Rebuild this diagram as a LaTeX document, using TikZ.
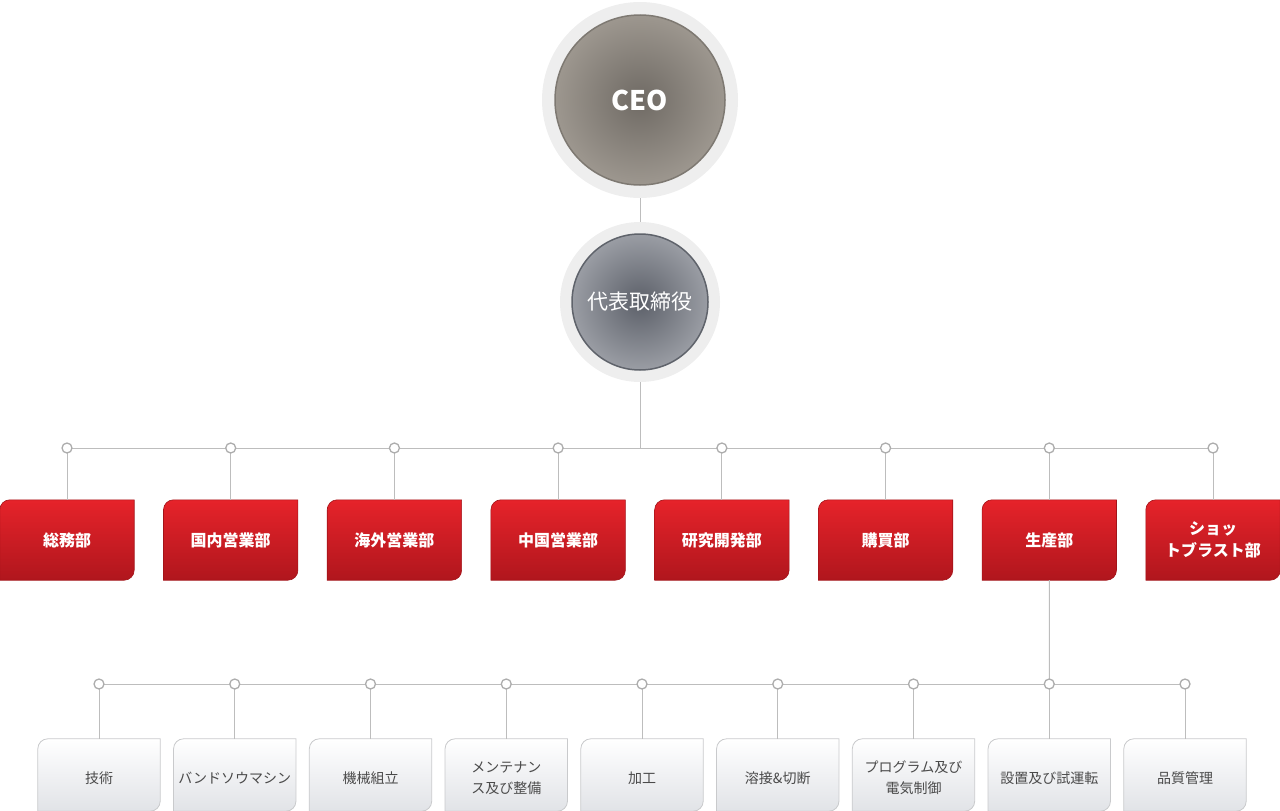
\documentclass[tikz,border=0pt]{standalone}
\usepackage{fontspec}
\setmainfont{Noto Sans CJK JP}
\usetikzlibrary{backgrounds}
\definecolor{linegray}{HTML}{BDBDBD}
\definecolor{dotgray}{HTML}{ADADAD}
\definecolor{ringgray}{HTML}{EEEEEE}
\definecolor{redtop}{HTML}{E6232A}
\definecolor{redbot}{HTML}{B0161D}
\definecolor{redrim}{HTML}{A31319}
\definecolor{boxgray}{HTML}{C9CACC}
\definecolor{boxbot}{HTML}{E1E3E7}
\definecolor{txtgray}{HTML}{4A4A4A}
\definecolor{ceoin}{HTML}{6F6A64}
\definecolor{ceoout}{HTML}{9D978F}
\definecolor{ceorim}{HTML}{7E7972}
\definecolor{repin}{HTML}{5C6069}
\definecolor{repout}{HTML}{9A9DA4}
\definecolor{reprim}{HTML}{5F636B}
\newcommand\tlbrshape[2]{%
  \path[#2] ([yshift=-10pt]#1.north west) arc[start angle=180,end angle=90,radius=10pt]
    -- (#1.north east) -- ([yshift=10pt]#1.south east)
    arc[start angle=0,end angle=-90,radius=10pt] -- (#1.south west) -- cycle;}
\tikzset{
  x=1pt,y=1pt,
  conn/.style={draw=linegray,line width=1pt},
  dotnode/.style={circle,draw=dotgray,line width=1.3pt,fill=white,minimum size=10pt,inner sep=0pt},
  redbox/.style={rectangle,minimum width=134pt,minimum height=80pt,inner sep=0pt,align=center,
    text=white,font=\fontsize{16}{22}\selectfont\bfseries},
  graybox/.style={rectangle,minimum width=122pt,minimum height=72pt,inner sep=0pt},
  graytext/.style={align=center,inner sep=0pt,text=txtgray,font=\fontsize{14}{21}\selectfont},
  redfill/.style={top color=redtop,bottom color=redbot,draw=redrim,line width=0.6pt},
  grayfill/.style={top color=white,middle color=white,bottom color=boxbot,draw=boxgray,line width=0.8pt},
  ringnode/.style={circle,inner sep=0pt,fill=ringgray},
}
\begin{document}
\begin{tikzpicture}
\useasboundingbox (0,0) rectangle (1280,-811);
% top circles
\node[ringnode,minimum size=196pt] (ceo) at (640,-100) {};
\node[ringnode,minimum size=160pt] (rep) at (640,-302) {};
\shade[inner color=ceoin,outer color=ceoout] (ceo.center) circle[radius=85pt];
\draw[ceorim,line width=1.5pt] (ceo.center) circle[radius=85pt];
\shade[inner color=repin,outer color=repout] (rep.center) circle[radius=68pt];
\draw[reprim,line width=1.5pt] (rep.center) circle[radius=68pt];
\node[text=white,font=\fontsize{27}{30}\selectfont\bfseries] (ceot) at (ceo.center) {CEO};
\node[text=white,font=\fontsize{21}{24}\selectfont] (rept) at (rep.center) {代表取締役};

% department level
\foreach \i/\t in {1/総務部,2/国内営業部,3/海外営業部,4/中国営業部,5/研究開発部,6/購買部,7/生産部,8/{ショッ\\トブラスト部}}{
  \pgfmathsetmacro\xx{67+163.714*(\i-1)}
  \node[redbox] (d\i) at (\xx,-540) {\t};
  \node[dotnode] (t\i) at (\xx,-448) {};
}
\foreach \i/\t in {1/技術,2/バンドソウマシン,3/機械組立,4/{メンテナン\\ス及び整備},5/加工,6/溶接\&切断,7/{プログラム及び\\電気制御},8/設置及び試運転,9/品質管理}{
  \pgfmathsetmacro\xx{99+135.75*(\i-1)}
  \node[graybox] (g\i) at (\xx,-775) {};
  \node[graytext] (gt\i) at (\xx,-778) {\t};
  \node[dotnode] (b\i) at (\xx,-684) {};
}
\coordinate (hub1) at (640,-448);
\begin{scope}[on background layer]
  \foreach \i in {1,...,8}{\tlbrshape{d\i}{redfill}}
  \foreach \i in {1,...,9}{\tlbrshape{g\i}{grayfill}}
  \draw[conn] (ceo.south) -- (rep.north);
  \draw[conn] (rep.south) -- (hub1);
  \draw[conn] (t1.center) -- (t8.center);
  \draw[conn] (b1.center) -- (b9.center);
  \foreach \i in {1,...,8}{\draw[conn] (t\i.center) -- (d\i.north);}
  \foreach \i in {1,...,9}{\draw[conn] (b\i.center) -- (g\i.north);}
  \draw[conn] (d7.south) -- (b8.center);
\end{scope}
\end{tikzpicture}
\end{document}
